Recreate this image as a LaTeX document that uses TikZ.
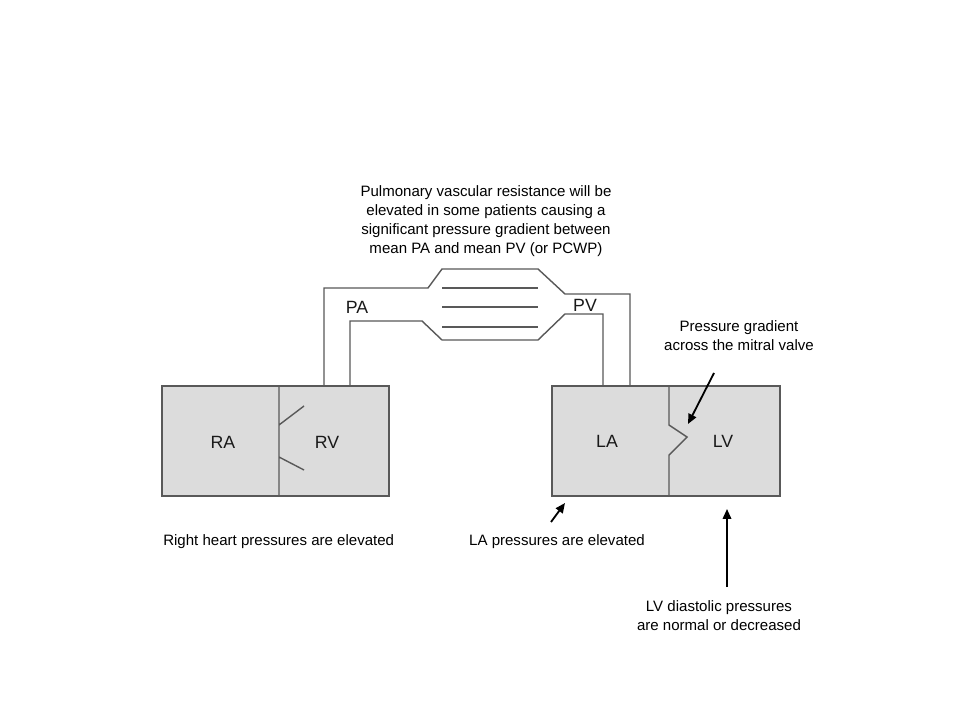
\documentclass[tikz,border=0pt]{standalone}
\usepackage{fontspec}
\setmainfont{Liberation Sans}
\usetikzlibrary{arrows.meta}
\definecolor{wallgray}{HTML}{595959}
\definecolor{chamberfill}{HTML}{DCDCDC}
\tikzset{
  wall/.style={draw=wallgray, line width=1pt},
  chamber/.style={wall, fill=chamberfill},
  tag/.style={font=\fontsize{12.6}{15}\selectfont, text=black!90},
  note/.style={font=\fontsize{10.7}{13.6}\selectfont, align=center, text=black},
  pointer/.style={-{Triangle[length=7pt,width=6pt]}, line width=1.3pt, black},
}
\begin{document}
\begin{tikzpicture}[x=0.025cm, y=-0.025cm]
  \useasboundingbox[fill=white] (0,0) rectangle (960,720);

  % right heart
  \filldraw[chamber] (162,386) rectangle (389,496);
  \draw[wall] (279,386) -- (279,496)
              (279,425) -- (304,406)
              (279,457) -- (304,470);

  % left heart with mitral notch
  \filldraw[chamber] (552,386) rectangle (780,496);
  \draw[wall] (669,386) -- (669,425) -- (687,437) -- (669,455) -- (669,496);

  % pulmonary vessel
  \draw[wall] (324,386) -- (324,288) -- (428,288) -- (442,269) -- (538,269)
              -- (565,294) -- (630,294) -- (630,386);
  \draw[wall] (350,386) -- (350,321) -- (422,321) -- (442,340) -- (538,340)
              -- (565,314) -- (603,314) -- (603,386);
  \draw[wall] (442,288) -- (538,288)
              (442,307) -- (538,307)
              (442,327) -- (538,327);

  \node[tag] (ra) at (223,442) {RA};
  \node[tag] (rv) at (327,442) {RV};
  \node[tag] (la) at (607,441) {LA};
  \node[tag] (lv) at (723,441) {LV};
  \node[tag] (pa) at (357,307) {PA};
  \node[tag] (pv) at (585,305) {PV};

  \node[note] (pvr) at (486,221) {Pulmonary vascular resistance will be\\
    elevated in some patients causing a\\
    significant pressure gradient between\\
    mean PA and mean PV (or PCWP)};
  \node[note] (mitral) at (739,336) {Pressure gradient\\across the mitral valve};
  \node[note, anchor=west, inner sep=0pt] (rhp) at (163,542) {Right heart pressures are elevated};
  \node[note] (lap) at (557,542) {LA pressures are elevated};
  \node[note] (lvp) at (719,616) {LV diastolic pressures\\are normal or decreased};

  \coordinate (mitraltail) at (714,373);
  \coordinate (notch) at (688,424);
  \coordinate (latail) at (551,522);
  \coordinate (lacorner) at (565,503);
  \coordinate (lvtail) at (727,587);
  \coordinate (lvbase) at (727,509);

  \draw[pointer] (mitraltail) -- (notch);
  \draw[pointer] (latail) -- (lacorner);
  \draw[pointer] (lvtail) -- (lvbase);
\end{tikzpicture}
\end{document}
